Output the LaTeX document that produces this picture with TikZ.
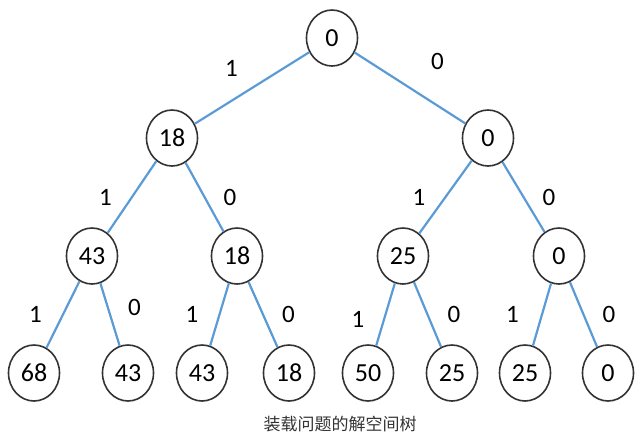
\documentclass[tikz,border=0pt]{standalone}
\usepackage{fontspec}
\setmainfont{Carlito}
\newfontfamily\cjk{Noto Sans CJK SC}
\usetikzlibrary{shapes.geometric,positioning}
\definecolor{treeblue}{HTML}{5B9BD5}
\definecolor{rimgray}{HTML}{333333}

\begin{document}
\begin{tikzpicture}[x=1pt,y=1pt,on grid,
    box/.style={ellipse,draw=rimgray,line width=1.6pt,minimum width=51pt,minimum height=56pt,inner sep=0pt,font=\fontsize{26}{30}\selectfont},
    bit/.style={inner sep=0pt,font=\fontsize{25}{29}\selectfont}]
      \useasboundingbox (0,0) rectangle (640,-437);
      \node[box]  (n_0)   at (332,-38)                          {0};
      \node[box]  (n_1)   [below left =100pt and 160pt of n_0]  {18};
      \node[box]  (n_2)   [below right=100pt and 156pt of n_0]  {0};
      \node[box]  (n_3)   [below left =118pt and 80pt of n_1]   {43};
      \node[box]  (n_4)   [below right=118pt and 65pt of n_1]   {18};
      \node[box]  (n_5)   [below left =118pt and 85pt of n_2]   {25};
      \node[box]  (n_6)   [below right=118pt and 71pt of n_2]   {0};
      \node[box]  (n_7)   [below left =117pt and 58pt of n_3]   {68};
      \node[box]  (n_8)   [below right=117pt and 36pt of n_3]   {43};
      \node[box]  (n_9)   [below left =117pt and 35pt of n_4]   {43};
      \node[box]  (n_10)  [below right=117pt and 52pt of n_4]   {18};
      \node[box]  (n_11)  [below left =117pt and 35pt of n_5]   {50};
      \node[box]  (n_12)  [below right=117pt and 49pt of n_5]   {25};
      \node[box]  (n_13)  [below left =117pt and 34pt of n_6]   {25};
      \node[box]  (n_14)  [below right=117pt and 49pt of n_6]   {0};
      \node[font=\cjk\fontsize{17}{20}\selectfont,text=rimgray] (cap) at (340,-424) {装载问题的解空间树};
        \path[every edge/.style={draw=treeblue,line width=2.2pt},every node/.style=bit]
          (n_0)  edge node[above left=10pt and 13pt] {1} (n_1)
                 edge node[above right=17pt and 20pt] {0} (n_2)
          (n_1)  edge node[left=19pt] {1} (n_3)
                 edge node[right=18pt] {0} (n_4)
          (n_2)  edge node[left=19pt] {1} (n_5)
                 edge node[right=18pt] {0} (n_6)
          (n_3)  edge node[left=20pt] {1} (n_7)
                 edge node[right=17pt,yshift=7pt] {0} (n_8)
          (n_4)  edge node[left=20pt] {1} (n_9)
                 edge node[right=18pt] {0} (n_10)
          (n_5)  edge node[left=20pt,yshift=-5pt] {1} (n_11)
                 edge node[right=19pt] {0} (n_12)
          (n_6)  edge node[left=22pt] {1} (n_13)
                 edge node[right=18pt] {0} (n_14);
\end{tikzpicture}
\end{document}
